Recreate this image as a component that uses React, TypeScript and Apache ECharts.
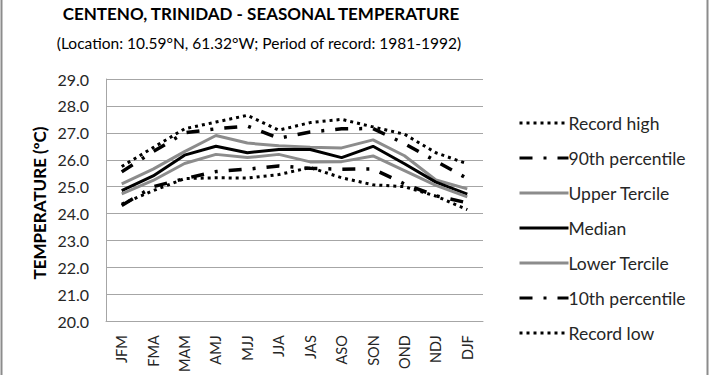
import React, { useEffect, useRef } from "react";
import * as echarts from "echarts";

const categories = ["JFM", "FMA", "MAM", "AMJ", "MJJ", "JJA", "JAS", "ASO", "SON", "OND", "NDJ", "DJF"];
const recordHigh = [25.75, 26.45, 27.15, 27.4, 27.65, 27.1, 27.38, 27.5, 27.22, 26.95, 26.26, 25.85];
const p90 = [25.55, 26.3, 27.0, 27.15, 27.25, 26.8, 27.03, 27.15, 27.16, 26.6, 25.95, 25.3];
const upperTercile = [25.1, 25.65, 26.3, 26.9, 26.62, 26.52, 26.46, 26.44, 26.74, 26.15, 25.25, 24.92];
const median = [24.85, 25.4, 26.17, 26.5, 26.26, 26.38, 26.38, 26.08, 26.5, 25.85, 25.17, 24.72];
const lowerTercile = [24.73, 25.23, 25.86, 26.2, 26.08, 26.2, 25.92, 25.93, 26.14, 25.6, 25.05, 24.62];
const p10 = [24.3, 25.0, 25.3, 25.56, 25.65, 25.77, 25.68, 25.65, 25.66, 25.1, 24.66, 24.4];
const recordLow = [24.35, 24.85, 25.3, 25.33, 25.32, 25.45, 25.71, 25.33, 25.07, 25.0, 24.65, 24.15];

const titleText = "CENTENO, TRINIDAD - SEASONAL TEMPERATURE";
const subtitleText = "(Location: 10.59°N, 61.32°W; Period of record: 1981-1992)";
const yAxisTitle = "TEMPERATURE (ºC)";

const FONT = "Lato, 'Open Sans', sans-serif";
const dotted = [3, 4];
const dashDot = [13, 11, 3, 11];

export default function App() {
  const ref = useRef<HTMLDivElement>(null);
  useEffect(() => {
    if (!ref.current) return;
    const chart = echarts.init(ref.current, null, { renderer: "svg" });
    const mk = (name: string, data: number[], color: string, width: number, type: any) => ({
      name,
      type: "line",
      data,
      symbol: "none",
      showSymbol: false,
      lineStyle: { color, width, type, cap: "butt" },
      itemStyle: { color },
    });
    chart.setOption({
      animation: false,
      backgroundColor: "#ffffff",
      textStyle: { fontFamily: FONT },
      grid: { left: 106, right: 227, top: 79, bottom: 47, containLabel: false },
      legend: {
        orient: "vertical",
        left: 513,
        top: 109,
        itemWidth: 49,
        itemHeight: 14,
        itemGap: 17,
        itemStyle: { opacity: 0 },
        lineStyle: { width: 3 },
        textStyle: { fontSize: 17.5, color: "#262626", fontFamily: FONT, padding: [0, 0, 0, -5] },
        data: ["Record high", "90th percentile", "Upper Tercile", "Median", "Lower Tercile", "10th percentile", "Record low"],
      },
      xAxis: {
        type: "category",
        data: categories,
        boundaryGap: true,
        axisLine: { show: true, lineStyle: { color: "#a6a6a6", width: 1 } },
        axisTick: { show: false },
        axisLabel: { rotate: 90, margin: 14, fontSize: 14.5, color: "#262626", fontFamily: FONT, interval: 0 },
      },
      yAxis: {
        type: "value",
        min: 20,
        max: 29,
        interval: 1,
        axisLine: { show: true, lineStyle: { color: "#a6a6a6", width: 1 } },
        axisTick: { show: false },
        splitLine: { show: true, lineStyle: { color: "#a6a6a6", width: 1 } },
        axisLabel: { fontSize: 16, color: "#262626", fontFamily: FONT, margin: 17, formatter: (v: number) => v.toFixed(1) },
      },
      series: [
        mk("Record high", recordHigh, "#000000", 3, dotted),
        mk("90th percentile", p90, "#000000", 3.5, dashDot),
        mk("Upper Tercile", upperTercile, "#8c8c8c", 3, "solid"),
        mk("Median", median, "#000000", 3, "solid"),
        mk("Lower Tercile", lowerTercile, "#8c8c8c", 3, "solid"),
        mk("10th percentile", p10, "#000000", 3.5, dashDot),
        mk("Record low", recordLow, "#000000", 3, dotted),
      ],
      graphic: [
        {
          type: "text",
          x: 261,
          y: 13,
          style: { text: titleText, font: `bold 17px ${FONT}`, fill: "#000", textAlign: "center", textVerticalAlign: "middle" },
        },
        {
          type: "text",
          x: 259,
          y: 43,
          style: { text: subtitleText, font: `15.5px ${FONT}`, fill: "#000", textAlign: "center", textVerticalAlign: "middle" },
        },
        {
          type: "text",
          x: 39,
          y: 203,
          rotation: Math.PI / 2,
          style: { text: yAxisTitle, font: `bold 17px ${FONT}`, fill: "#000", textAlign: "center", textVerticalAlign: "middle" },
        },
        { type: "line", shape: { x1: 1.5, y1: 0, x2: 1.5, y2: 375 }, style: { stroke: "#8c8c8c", lineWidth: 2 } },
        { type: "line", shape: { x1: 707.5, y1: 0, x2: 707.5, y2: 375 }, style: { stroke: "#8c8c8c", lineWidth: 2 } },
      ],
    });
    return () => chart.dispose();
  }, []);
  return <div ref={ref} style={{ width: 710, height: 375, position: "absolute", left: 0, top: 0 }} />;
}
